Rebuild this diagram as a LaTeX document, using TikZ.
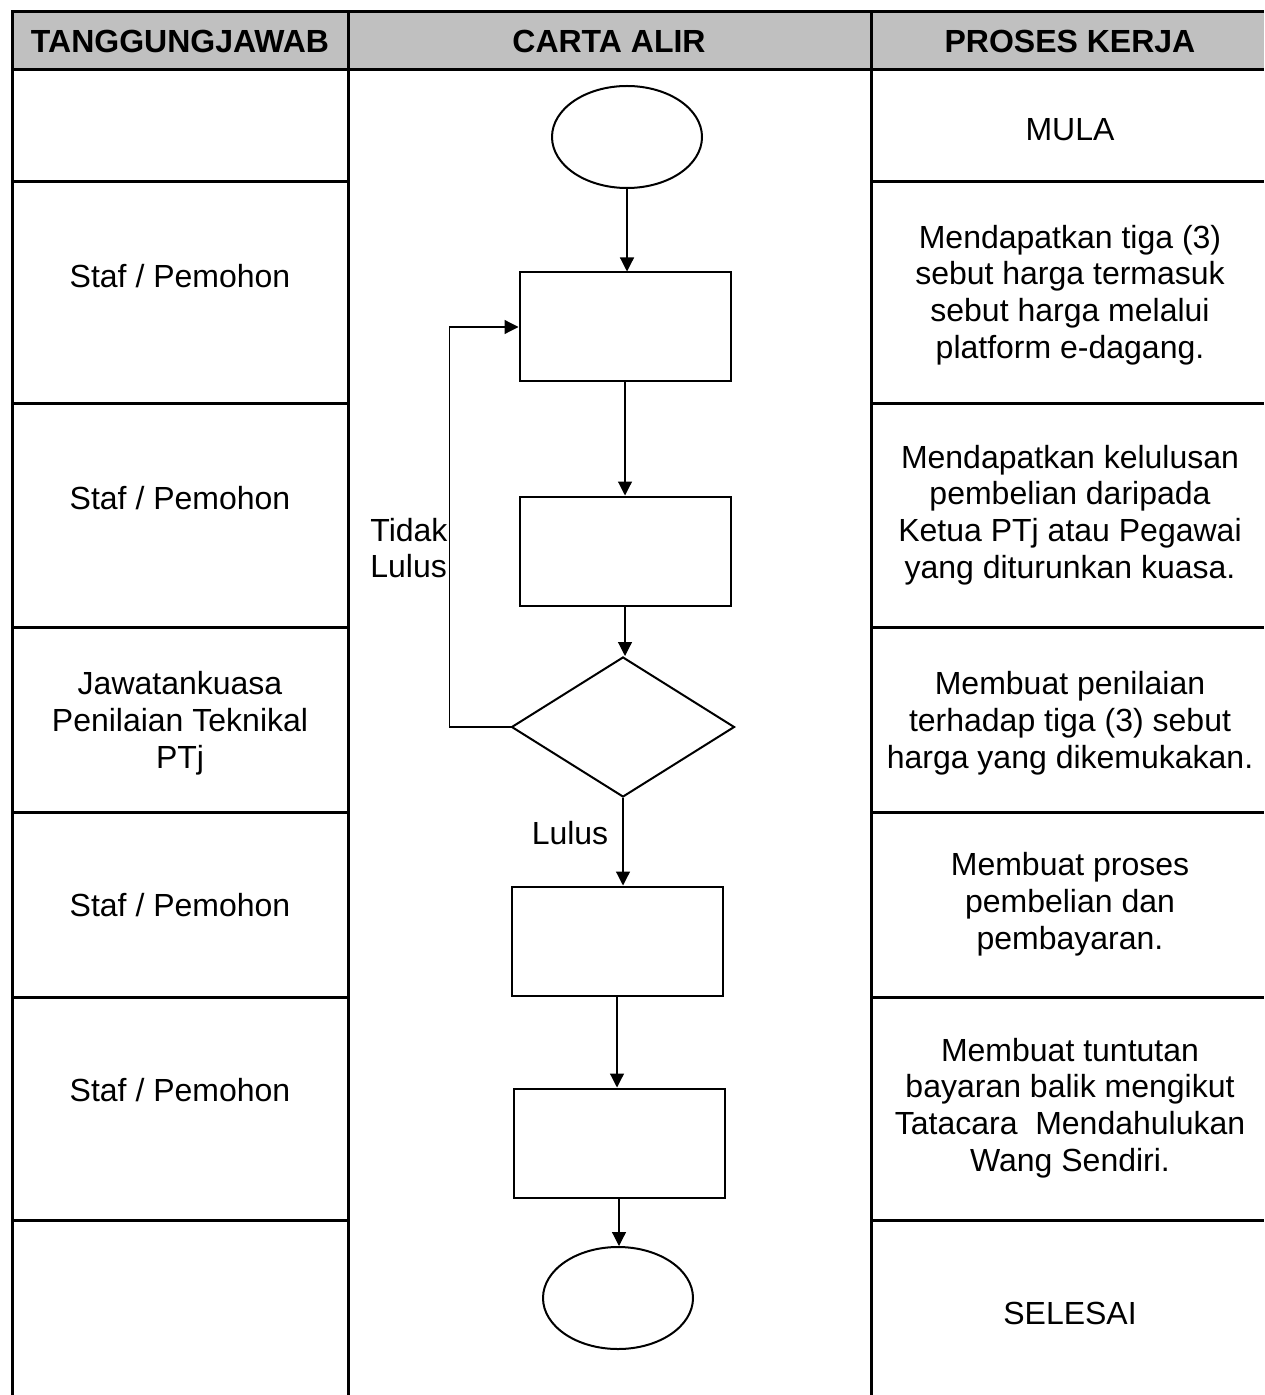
\documentclass[tikz,border=0pt]{standalone}
\usepackage{fontspec}
\setmainfont{Liberation Sans}
\usetikzlibrary{shapes.geometric,arrows.meta}
\definecolor{hdgray}{RGB}{192,192,192}

\begin{document}
\begin{tikzpicture}[x=0.5pt,y=-0.5pt,
    every node/.style={font=\fontsize{16}{18.4}\selectfont,align=center},
    tbl/.style={line width=1.5pt},
    box/.style={draw,line width=1pt,rectangle,minimum width=105.5pt,minimum height=54.5pt},
    oval/.style={draw,line width=1pt,ellipse,minimum width=75pt,minimum height=51pt},
    dec/.style={draw,line width=1pt,diamond,minimum width=111.5pt,minimum height=70pt,inner sep=0pt},
    arr/.style={line width=0.6pt,-{Triangle[length=7pt,width=7pt]}}]
    \useasboundingbox (0,0) rectangle (1264,1395);
    % table
    \fill[hdgray] (12,12) rectangle (1264,70);
    \draw[tbl] (12,1395)--(12,12)--(1264,12);
    \draw[tbl] (12,70)--(1264,70);
    \draw[tbl] (348,12)--(348,1395);
    \draw[tbl] (871,12)--(871,1395);
    \foreach \y in {182,404,627,812,997,1220} {
      \draw[tbl] (12,\y)--(348,\y);
      \draw[tbl] (871,\y)--(1264,\y);
    }
    \node (ha) at (180,41) {\bfseries TANGGUNGJAWAB};
    \node (hb) at (609,41) {\bfseries CARTA ALIR};
    \node (hc) at (1070,41) {\bfseries PROSES KERJA};
    % tanggungjawab
    \node (la) at (180,276) {Staf / Pemohon};
    \node (lb) at (180,498) {Staf / Pemohon};
    \node (lc) at (180,723) {Jawatankuasa\\Penilaian Teknikal\\PTj};
    \node (ld) at (180,905) {Staf / Pemohon};
    \node (le) at (180,1090) {Staf / Pemohon};
    % proses kerja
    \node (ra) at (1070,130) {MULA};
    \node (rb) at (1070,295) {Mendapatkan tiga (3)\\sebut harga termasuk\\sebut harga melalui\\platform e-dagang.};
    \node (rc) at (1070,515) {Mendapatkan kelulusan\\pembelian daripada\\Ketua PTj atau Pegawai\\yang diturunkan kuasa.};
    \node (rd) at (1070,723) {Membuat penilaian\\terhadap tiga (3) sebut\\harga yang dikemukakan.};
    \node (re) at (1070,904) {Membuat proses\\pembelian dan\\pembayaran.};
    \node (rf) at (1070,1108) {Membuat tuntutan\\bayaran balik mengikut\\Tatacara~ Mendahulukan\\Wang Sendiri.};
    \node (rg) at (1070,1313) {SELESAI};
    % carta alir
    \node[oval] (st) at (627,137) {};
    \node[box] (b1) at (625,327) {};
    \node[box] (b2) at (625,551) {};
    \node[dec] (dc) at (623,727) {};
    \node[box] (b3) at (617,941) {};
    \node[box] (b4) at (619,1143) {};
    \node[oval] (en) at (618,1298) {};
    \draw[arr] (st.south)--(st.south|-b1.north);
    \draw[arr] (b1.south)--(b1.south|-b2.north);
    \draw[arr] (b2.south)--(b2.south|-dc.north);
    \draw[arr] (dc.west)--++(-61,0)|-(b1.west);
    \draw[arr] (dc.south)--(dc.south|-b3.north);
    \draw[arr] (b3.south)--(b3.south|-b4.north);
    \draw[arr] (b4.south)--(b4.south|-en.north);
    \node[anchor=west,align=left,inner sep=0pt] (tl) at (370,548) {Tidak\\Lulus};
    \node (ll) at (570,833) {Lulus};
  \end{tikzpicture}
\end{document}
